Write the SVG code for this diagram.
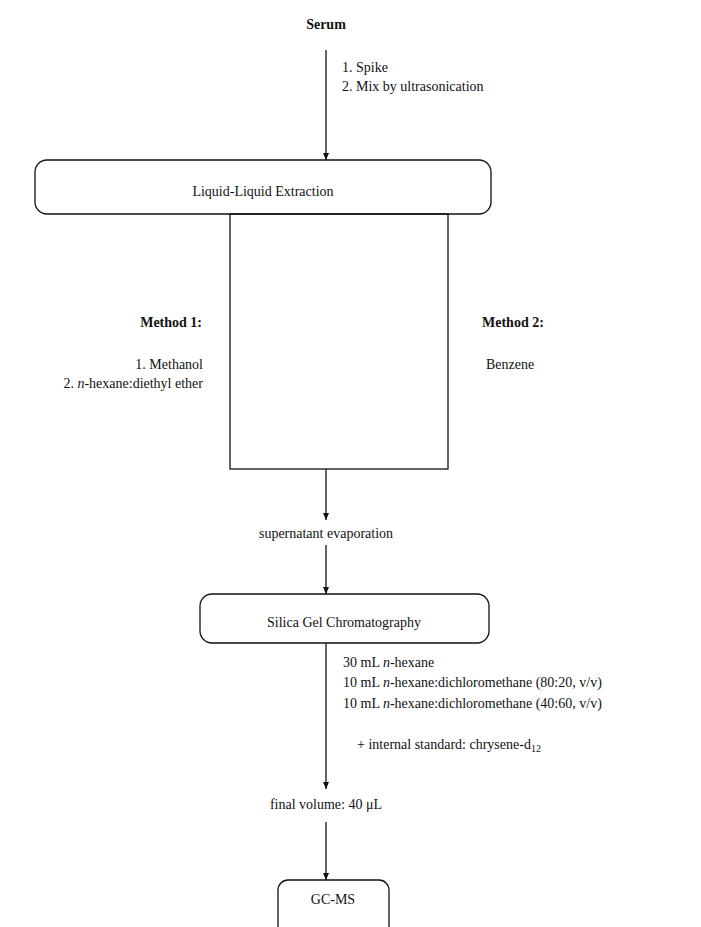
<svg xmlns="http://www.w3.org/2000/svg" width="701" height="927" viewBox="0 0 701 927">
<style>
text{font-family:"Liberation Serif","Times New Roman",serif;font-size:14px;fill:#111}
.b{font-weight:bold}
.box{fill:none;stroke:#111;stroke-width:1.3}
.ln{stroke:#111;stroke-width:1.3;fill:none}
</style>
<defs>
<marker id="ah" markerWidth="8" markerHeight="8" refX="7" refY="4" orient="auto" markerUnits="userSpaceOnUse">
<path d="M0,1 L7,4 L0,7 Z" fill="#111"/>
</marker>
</defs>
<rect width="701" height="927" fill="#fff"/>
<g id="serum"><text class="b" x="326" y="29" text-anchor="middle">Serum</text></g>
<g id="lle">
<rect class="box" x="35" y="160" width="456" height="54" rx="12"/>
<text x="263" y="196" text-anchor="middle">Liquid-Liquid Extraction</text>
</g>
<g id="methods">
<rect class="box" x="230" y="214" width="218" height="255"/>
<text class="b" x="202" y="327" text-anchor="end">Method 1:</text>
<text x="203" y="369" text-anchor="end">1. Methanol</text>
<text x="203" y="388" text-anchor="end">2. <tspan font-style="italic">n</tspan>-hexane:diethyl ether</text>
<text class="b" x="482" y="327">Method 2:</text>
<text x="486" y="369">Benzene</text>
</g>
<g id="evap"><text x="326" y="538" text-anchor="middle">supernatant evaporation</text></g>
<g id="silica">
<rect class="box" x="200" y="594" width="289" height="49" rx="12"/>
<text x="344" y="627" text-anchor="middle">Silica Gel Chromatography</text>
</g>
<g id="final"><text x="326" y="809" text-anchor="middle">final volume: 40 μL</text></g>
<g id="gcms">
<rect class="box" x="278" y="880" width="111" height="60" rx="10"/>
<text x="333" y="904" text-anchor="middle">GC-MS</text>
</g>
<g id="connectors">
<line class="ln" x1="326" y1="50" x2="326" y2="160" marker-end="url(#ah)"/>
<line class="ln" x1="326" y1="469" x2="326" y2="520" marker-end="url(#ah)"/>
<line class="ln" x1="326" y1="545" x2="326" y2="594" marker-end="url(#ah)"/>
<line class="ln" x1="326" y1="643" x2="326" y2="789" marker-end="url(#ah)"/>
<line class="ln" x1="326" y1="822" x2="326" y2="880" marker-end="url(#ah)"/>
</g>
<g id="labels">
<text x="342" y="72">1. Spike</text>
<text x="342" y="91">2. Mix by ultrasonication</text>
<text x="343" y="667">30 mL <tspan font-style="italic">n</tspan>-hexane</text>
<text x="343" y="687">10 mL <tspan font-style="italic">n</tspan>-hexane:dichloromethane (80:20, v/v)</text>
<text x="343" y="708">10 mL <tspan font-style="italic">n</tspan>-hexane:dichloromethane (40:60, v/v)</text>
<text x="357" y="749">+ internal standard: chrysene-d<tspan font-size="10" dy="3">12</tspan></text>
</g>
</svg>
